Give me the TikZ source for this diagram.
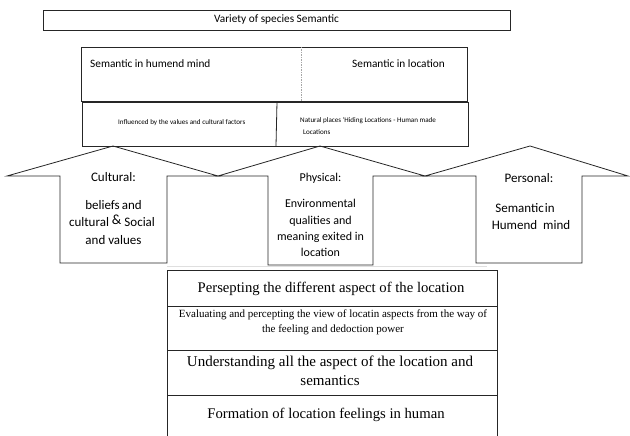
\documentclass[tikz,border=0pt]{standalone}
\usepackage{fontspec}
\setmainfont{Liberation Serif}
\newfontfamily\carl{Carlito}
\begin{document}
\begin{tikzpicture}[x=1pt,y=-1pt,
  frame/.style={draw=black!85,line width=0.8pt},
  arrowshape/.style={draw=black!85,line width=0.8pt,line join=miter},
  sanslabel/.style={font=\carl\fontsize{11.3}{13}\selectfont,inner sep=0pt},
  tinylabel/.style={font=\carl\fontsize{7.1}{8}\selectfont,inner sep=0pt,anchor=west},
  armline/.style={font=\carl\fontsize{13}{15}\selectfont,inner sep=0pt,anchor=base},
  physline/.style={font=\carl\fontsize{12}{14}\selectfont,inner sep=0pt,anchor=base},
  serifline/.style={inner sep=0pt,anchor=base}]
\useasboundingbox (0,0) rectangle (630,436);
\fill[white] (0,0) rectangle (630,436);

% title bar
\draw[frame] (43,10) rectangle (510,30);
\node[sanslabel] (title) at (276.5,20) {Variety of species Semantic};

% semantic split box
\draw[frame] (81,47) rectangle (467,101);
\draw[gray!70,line width=0.5pt,dash pattern=on 1.5pt off 1pt] (301,47) -- (301,101);
\node[sanslabel,anchor=west] (mind) at (90,64) {Semantic in humend mind};
\node[sanslabel,anchor=west] (loc) at (352,64) {Semantic in location};

% influence box
\draw[frame] (82,102) rectangle (468,146);
\draw[black!85,line width=0.8pt] (277,102) -- (276,146);
\node[tinylabel] (infl) at (118,123) {Influenced by the values and cultural factors};
\node[tinylabel] (nat) at (300,121) {Natural places \textquotesingle Hiding Locations - Human made};
\node[tinylabel] (natb) at (303,132) {Locations};

% three upward arrows
\draw[arrowshape] (7,176) -- (113,146) -- (218,176) -- (167,176) -- (167,263)
  -- (60,263) -- (60,176) -- cycle;
\draw[arrowshape] (218,176) -- (320,146) -- (425,176) -- (373,176) -- (373,265)
  -- (268,265) -- (268,176) -- cycle;
\draw[arrowshape] (425,176) -- (530,146) -- (628,176) -- (582,176) -- (582,263)
  -- (476,263) -- (476,176) -- cycle;

% cultural arrow text
\node[armline] (cultA) at (113.5,181.5) {Cultural:};
\node[armline] (cultB) at (113.5,209.5) {beliefs\hspace{2pt}and};
\node[armline] (cultC) at (112,226.5) {cultural \raisebox{2.5pt}{\fontsize{14}{14}\selectfont\&} Social};
\node[armline] (cultD) at (113.5,244.5) {and values};

% physical arrow text
\node[physline] (physA) at (320.5,181.5) {Physical:};
\node[physline] (physB) at (320.5,207) {Environmental};
\node[physline] (physC) at (320.5,224) {qualities and};
\node[physline] (physD) at (320.5,240) {meaning exited in};
\node[physline] (physE) at (320.5,256) {location};

% personal arrow text
\node[armline] (persA) at (529,182.5) {Personal:};
\node[armline] (persB) at (525,212.5) {Semantic\hspace{1pt}in};
\node[armline] (persC) at (531,229.5) {Humend\hspace{6pt}mind};

% faint shadow line under the arrows
\draw[gray!25,line width=0.8pt] (167,266) -- (487,266);

% process stack
\draw[frame] (167,436) -- (167,270) -- (497,270) -- (497,436);
\draw[frame] (167,306) -- (497,306);
\draw[frame] (167,350) -- (497,350);
\draw[frame] (167,395) -- (497,395);
\node[serifline,font=\fontsize{14.7}{17}\selectfont] (p1) at (331,292)
  {Persepting the different aspect of the location};
\node[serifline,font=\fontsize{11}{13}\selectfont] (p2a) at (333,317)
  {Evaluating and percepting the view of locatin aspects from the way of};
\node[serifline,font=\fontsize{11}{13}\selectfont] (p2b) at (333,332)
  {the feeling and dedoction power};
\node[serifline,font=\fontsize{15}{18}\selectfont] (p3a) at (330,366)
  {Understanding all the aspect of the location and};
\node[serifline,font=\fontsize{15}{18}\selectfont] (p3b) at (330,385)
  {semantics};
\node[serifline,font=\fontsize{14.7}{17}\selectfont] (p4) at (326,418)
  {Formation of location feelings in human};
\end{tikzpicture}
\end{document}
